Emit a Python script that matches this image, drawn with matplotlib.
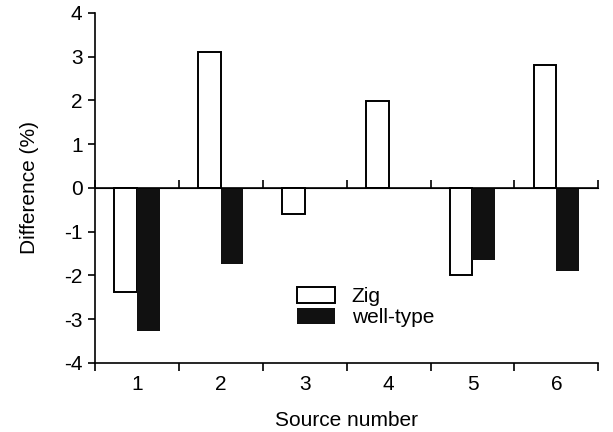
import numpy as np
import matplotlib.pyplot as plt

plt.rcParams['font.family'] = ['Liberation Sans', 'DejaVu Sans']
plt.rcParams['axes.unicode_minus'] = False

# Data
sources = [1, 2, 3, 4, 5, 6]
zig = [-2.38, 3.1, -0.6, 1.98, -2.0, 2.82]
well_type = [-3.28, -1.75, 0.0, 0.0, -1.65, -1.9]

x = np.array(sources)
w = 0.27

fig = plt.figure(figsize=(6.13, 4.32), dpi=100)
ax = fig.add_axes([0.155, 0.16, 0.821, 0.81])

ax.bar(x - w / 2, zig, width=w, color='white', edgecolor='black',
       linewidth=1.4, label='Zig')
ax.bar(x + w / 2, well_type, width=w, color='#111111', edgecolor='none',
       label='well-type')

ax.axhline(0, color='black', linewidth=1.2)

ax.set_xlim(0.5, 6.5)
ax.set_ylim(-4, 4)
ax.set_yticks(range(-4, 5))

# major ticks on category boundaries, labels on centres
ax.set_xticks(np.arange(0.5, 7, 1))
ax.set_xticklabels([])
ax.set_xticks(x, minor=True)
ax.set_xticklabels([str(s) for s in sources], minor=True)
ax.tick_params(axis='x', which='minor', length=0, pad=9, labelsize=15)
ax.tick_params(axis='x', which='major', length=6, width=1.2, direction='out')
ax.tick_params(axis='y', length=5, width=1.2, labelsize=15, pad=4)

# tick marks hanging below the zero line
sec = ax.secondary_xaxis(0.5)
sec.set_xticks(np.arange(0.5, 7, 1))
sec.set_xticklabels([])
sec.tick_params(length=6, width=1.2, direction='out')
sec.spines['bottom'].set_visible(False)

for s in ['top', 'right']:
    ax.spines[s].set_visible(False)
for s in ['left', 'bottom']:
    ax.spines[s].set_linewidth(1.2)

ax.set_xlabel('Source number', fontsize=15, labelpad=12)
ax.set_ylabel('Difference (%)', fontsize=15, labelpad=18)

ax.legend(loc='upper left', bbox_to_anchor=(0.365, 0.27), frameon=False,
          fontsize=15, handlelength=1.8, handleheight=0.75,
          handletextpad=0.8, labelspacing=0.1)

plt.savefig('out.png')
